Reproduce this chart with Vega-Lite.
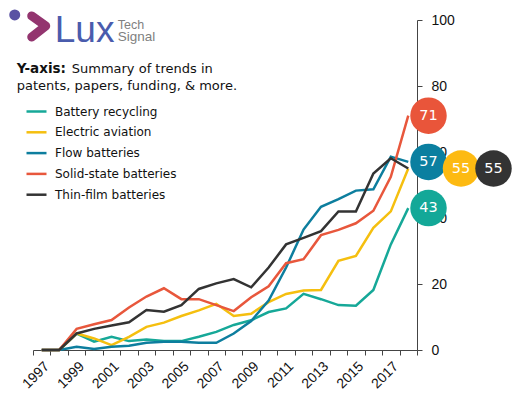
{
  "$schema": "https://vega.github.io/schema/vega-lite/v6.json",
  "width": 384,
  "height": 330,
  "autosize": {"type": "none"},
  "padding": {"left": 33, "top": 20, "right": 101, "bottom": 47},
  "background": "white",
  "config": {"view": {"stroke": null}, "font": "DejaVu Sans"},
  "datasets": {
    "trends": [
      {"year": 1997, "series": "Battery recycling", "value": 0},
      {"year": 1998, "series": "Battery recycling", "value": 0},
      {"year": 1999, "series": "Battery recycling", "value": 5},
      {"year": 2000, "series": "Battery recycling", "value": 2.5},
      {"year": 2001, "series": "Battery recycling", "value": 4},
      {"year": 2002, "series": "Battery recycling", "value": 2.7},
      {"year": 2003, "series": "Battery recycling", "value": 3.2},
      {"year": 2004, "series": "Battery recycling", "value": 2.7},
      {"year": 2005, "series": "Battery recycling", "value": 2.7},
      {"year": 2006, "series": "Battery recycling", "value": 4},
      {"year": 2007, "series": "Battery recycling", "value": 5.5},
      {"year": 2008, "series": "Battery recycling", "value": 7.6},
      {"year": 2009, "series": "Battery recycling", "value": 9},
      {"year": 2010, "series": "Battery recycling", "value": 11.5},
      {"year": 2011, "series": "Battery recycling", "value": 12.6},
      {"year": 2012, "series": "Battery recycling", "value": 17},
      {"year": 2013, "series": "Battery recycling", "value": 15.4},
      {"year": 2014, "series": "Battery recycling", "value": 13.6},
      {"year": 2015, "series": "Battery recycling", "value": 13.4},
      {"year": 2016, "series": "Battery recycling", "value": 18.2},
      {"year": 2017, "series": "Battery recycling", "value": 32},
      {"year": 2018, "series": "Battery recycling", "value": 43},
      {"year": 1997, "series": "Electric aviation", "value": 0},
      {"year": 1998, "series": "Electric aviation", "value": 0},
      {"year": 1999, "series": "Electric aviation", "value": 5},
      {"year": 2000, "series": "Electric aviation", "value": 3.5},
      {"year": 2001, "series": "Electric aviation", "value": 1.5},
      {"year": 2002, "series": "Electric aviation", "value": 4},
      {"year": 2003, "series": "Electric aviation", "value": 7},
      {"year": 2004, "series": "Electric aviation", "value": 8.3},
      {"year": 2005, "series": "Electric aviation", "value": 10.3},
      {"year": 2006, "series": "Electric aviation", "value": 12},
      {"year": 2007, "series": "Electric aviation", "value": 14},
      {"year": 2008, "series": "Electric aviation", "value": 10.3},
      {"year": 2009, "series": "Electric aviation", "value": 11},
      {"year": 2010, "series": "Electric aviation", "value": 14.5},
      {"year": 2011, "series": "Electric aviation", "value": 17},
      {"year": 2012, "series": "Electric aviation", "value": 18},
      {"year": 2013, "series": "Electric aviation", "value": 18.2},
      {"year": 2014, "series": "Electric aviation", "value": 27},
      {"year": 2015, "series": "Electric aviation", "value": 28.5},
      {"year": 2016, "series": "Electric aviation", "value": 37},
      {"year": 2017, "series": "Electric aviation", "value": 42},
      {"year": 2018, "series": "Electric aviation", "value": 55},
      {"year": 1997, "series": "Flow batteries", "value": 0},
      {"year": 1998, "series": "Flow batteries", "value": 0},
      {"year": 1999, "series": "Flow batteries", "value": 1},
      {"year": 2000, "series": "Flow batteries", "value": 0.3},
      {"year": 2001, "series": "Flow batteries", "value": 1},
      {"year": 2002, "series": "Flow batteries", "value": 1.3},
      {"year": 2003, "series": "Flow batteries", "value": 2.2},
      {"year": 2004, "series": "Flow batteries", "value": 2.5},
      {"year": 2005, "series": "Flow batteries", "value": 2.5},
      {"year": 2006, "series": "Flow batteries", "value": 2.2},
      {"year": 2007, "series": "Flow batteries", "value": 2.2},
      {"year": 2008, "series": "Flow batteries", "value": 5},
      {"year": 2009, "series": "Flow batteries", "value": 8.8},
      {"year": 2010, "series": "Flow batteries", "value": 15},
      {"year": 2011, "series": "Flow batteries", "value": 25},
      {"year": 2012, "series": "Flow batteries", "value": 36.5},
      {"year": 2013, "series": "Flow batteries", "value": 43.4},
      {"year": 2014, "series": "Flow batteries", "value": 45.7},
      {"year": 2015, "series": "Flow batteries", "value": 48.3},
      {"year": 2016, "series": "Flow batteries", "value": 48.7},
      {"year": 2017, "series": "Flow batteries", "value": 58.6},
      {"year": 2018, "series": "Flow batteries", "value": 57},
      {"year": 1997, "series": "Solid-state batteries", "value": 0},
      {"year": 1998, "series": "Solid-state batteries", "value": 0},
      {"year": 1999, "series": "Solid-state batteries", "value": 6.4},
      {"year": 2000, "series": "Solid-state batteries", "value": 7.8},
      {"year": 2001, "series": "Solid-state batteries", "value": 9.1},
      {"year": 2002, "series": "Solid-state batteries", "value": 12.9},
      {"year": 2003, "series": "Solid-state batteries", "value": 16.2},
      {"year": 2004, "series": "Solid-state batteries", "value": 18.7},
      {"year": 2005, "series": "Solid-state batteries", "value": 15.4},
      {"year": 2006, "series": "Solid-state batteries", "value": 15.4},
      {"year": 2007, "series": "Solid-state batteries", "value": 13.6},
      {"year": 2008, "series": "Solid-state batteries", "value": 11.8},
      {"year": 2009, "series": "Solid-state batteries", "value": 16},
      {"year": 2010, "series": "Solid-state batteries", "value": 19.3},
      {"year": 2011, "series": "Solid-state batteries", "value": 26.3},
      {"year": 2012, "series": "Solid-state batteries", "value": 27.5},
      {"year": 2013, "series": "Solid-state batteries", "value": 34.8},
      {"year": 2014, "series": "Solid-state batteries", "value": 36.4},
      {"year": 2015, "series": "Solid-state batteries", "value": 38.4},
      {"year": 2016, "series": "Solid-state batteries", "value": 42.2},
      {"year": 2017, "series": "Solid-state batteries", "value": 52.5},
      {"year": 2018, "series": "Solid-state batteries", "value": 71},
      {"year": 1997, "series": "Thin-film batteries", "value": 0},
      {"year": 1998, "series": "Thin-film batteries", "value": 0},
      {"year": 1999, "series": "Thin-film batteries", "value": 5},
      {"year": 2000, "series": "Thin-film batteries", "value": 6.4},
      {"year": 2001, "series": "Thin-film batteries", "value": 7.4},
      {"year": 2002, "series": "Thin-film batteries", "value": 8.4},
      {"year": 2003, "series": "Thin-film batteries", "value": 12.1},
      {"year": 2004, "series": "Thin-film batteries", "value": 11.6},
      {"year": 2005, "series": "Thin-film batteries", "value": 13.6},
      {"year": 2006, "series": "Thin-film batteries", "value": 18.5},
      {"year": 2007, "series": "Thin-film batteries", "value": 20.2},
      {"year": 2008, "series": "Thin-film batteries", "value": 21.5},
      {"year": 2009, "series": "Thin-film batteries", "value": 19},
      {"year": 2010, "series": "Thin-film batteries", "value": 25},
      {"year": 2011, "series": "Thin-film batteries", "value": 32},
      {"year": 2012, "series": "Thin-film batteries", "value": 34},
      {"year": 2013, "series": "Thin-film batteries", "value": 36},
      {"year": 2014, "series": "Thin-film batteries", "value": 42},
      {"year": 2015, "series": "Thin-film batteries", "value": 42},
      {"year": 2016, "series": "Thin-film batteries", "value": 53.5},
      {"year": 2017, "series": "Thin-film batteries", "value": 58.1},
      {"year": 2018, "series": "Thin-film batteries", "value": 55}
    ],
    "latest": [
      {"series": "Solid-state batteries", "value": 71, "col": 1},
      {"series": "Flow batteries", "value": 57, "col": 1},
      {"series": "Battery recycling", "value": 43, "col": 1},
      {"series": "Electric aviation", "value": 55, "col": 2},
      {"series": "Thin-film batteries", "value": 55, "col": 3}
    ]
  },
  "layer": [
    {
      "layer": [
        {
          "data": {"name": "trends"},
          "mark": {"type": "line", "strokeWidth": 2.5},
          "encoding": {
            "x": {
              "field": "year", "type": "ordinal",
              "scale": {"type": "band", "paddingInner": 0, "paddingOuter": 0},
              "axis": {
                "title": null, "tickBand": "extent", "grid": false,
                "labelExpr": "datum.value % 2 == 1 ? datum.label : ''",
                "labelAngle": -45, "labelAlign": "right", "labelBaseline": "top",
                "labelPadding": 4, "tickSize": 5, "labelOverlap": false,
                "labelFont": "Liberation Sans", "labelFontSize": 14, "labelColor": "#111111",
                "domainColor": "#444444", "tickColor": "#444444"
              }
            },
            "y": {
              "field": "value", "type": "quantitative",
              "scale": {"domain": [0, 100], "nice": false},
              "axis": {
                "orient": "right", "title": null, "grid": false,
                "values": [0, 20, 40, 60, 80, 100],
                "tickSize": 5, "labelPadding": 9, "labelAlign": "left",
                "labelFont": "Liberation Sans", "labelFontSize": 14, "labelColor": "#111111",
                "domainColor": "#444444", "tickColor": "#444444"
              }
            },
            "color": {
              "field": "series", "type": "nominal",
              "scale": {
                "domain": ["Battery recycling", "Electric aviation", "Flow batteries", "Solid-state batteries", "Thin-film batteries"],
                "range": ["#16A898", "#F5BF0F", "#0D7E9E", "#E8573C", "#333333"]
              },
              "legend": {
                "orient": "none", "legendX": -8, "legendY": 80, "title": null,
                "symbolType": "stroke", "symbolSize": 400, "symbolStrokeWidth": 2.5,
                "labelFont": "DejaVu Sans", "labelFontSize": 12, "labelColor": "#111111",
                "rowPadding": 2.8, "labelOffset": 7, "padding": 0
              }
            }
          }
        },
        {
          "data": {"values": [{}]},
          "mark": {"type": "text", "text": "Y-axis:", "font": "DejaVu Sans", "fontSize": 13.5, "fontWeight": "bold", "align": "left", "baseline": "alphabetic", "dx": -25, "color": "#111111"},
          "encoding": {"x": {"datum": 1997, "type": "ordinal"}, "y": {"datum": 84, "type": "quantitative"}}
        },
        {
          "data": {"values": [{}]},
          "mark": {"type": "text", "text": "Summary of trends in", "font": "DejaVu Sans", "fontSize": 13, "align": "left", "baseline": "alphabetic", "dx": 30, "color": "#111111"},
          "encoding": {"x": {"datum": 1997, "type": "ordinal"}, "y": {"datum": 84, "type": "quantitative"}}
        },
        {
          "data": {"values": [{}]},
          "mark": {"type": "text", "text": "patents, papers, funding, & more.", "font": "DejaVu Sans", "fontSize": 13, "align": "left", "baseline": "alphabetic", "dx": -25, "color": "#111111"},
          "encoding": {"x": {"datum": 1997, "type": "ordinal"}, "y": {"datum": 78.8, "type": "quantitative"}}
        },
        {
          "data": {"values": [{}]},
          "mark": {"type": "text", "text": "Lux", "font": "Liberation Sans", "fontSize": 37, "align": "left", "baseline": "alphabetic", "dx": 13, "color": "#4A5CAD"},
          "encoding": {"x": {"datum": 1997, "type": "ordinal"}, "y": {"datum": 93.4, "type": "quantitative"}}
        },
        {
          "data": {"values": [{}]},
          "mark": {"type": "text", "text": "Tech", "font": "Liberation Sans", "fontSize": 12.5, "align": "left", "baseline": "alphabetic", "dx": 76, "color": "#808080"},
          "encoding": {"x": {"datum": 1997, "type": "ordinal"}, "y": {"datum": 97.4, "type": "quantitative"}}
        },
        {
          "data": {"values": [{}]},
          "mark": {"type": "text", "text": "Signal", "font": "Liberation Sans", "fontSize": 13.5, "align": "left", "baseline": "alphabetic", "dx": 76, "color": "#808080"},
          "encoding": {"x": {"datum": 1997, "type": "ordinal"}, "y": {"datum": 93.6, "type": "quantitative"}}
        },
        {
          "data": {"values": [{}]},
          "mark": {"type": "point", "shape": "M-27,-11 L-27,-11", "size": 4, "filled": false, "stroke": "#5A52A3", "strokeWidth": 11, "strokeCap": "round", "opacity": 1},
          "encoding": {"x": {"datum": 1997, "type": "ordinal"}, "y": {"datum": 98.2, "type": "quantitative"}}
        },
        {
          "data": {"values": [{}]},
          "mark": {"type": "point", "shape": "M-10,-10 L4,0 L-10,11", "size": 4, "filled": false, "stroke": "#93356F", "strokeWidth": 9, "strokeCap": "round", "strokeJoin": "round", "opacity": 1},
          "encoding": {"x": {"datum": 1997, "type": "ordinal"}, "y": {"datum": 98.2, "type": "quantitative"}}
        }
      ]
    },
    {
      "data": {"name": "latest"},
      "encoding": {
        "x": {"field": "col", "type": "quantitative", "scale": {"domain": [1, 3], "range": [395.5, 460.5]}, "axis": null},
        "y": {"field": "value", "type": "quantitative"}
      },
      "layer": [
        {
          "mark": {"type": "point", "shape": "circle", "filled": true, "size": 1330, "opacity": 1},
          "encoding": {
            "fill": {
              "field": "series", "type": "nominal",
              "scale": {
                "domain": ["Battery recycling", "Electric aviation", "Flow batteries", "Solid-state batteries", "Thin-film batteries"],
                "range": ["#13A898", "#FDBA12", "#0B7FA0", "#E9553A", "#333333"]
              },
              "legend": null
            }
          }
        },
        {
          "mark": {"type": "text", "color": "white", "font": "DejaVu Sans", "fontSize": 14.5, "align": "center", "baseline": "middle"},
          "encoding": {"text": {"field": "value", "type": "quantitative"}}
        }
      ]
    }
  ],
  "resolve": {"scale": {"x": "independent"}}
}
